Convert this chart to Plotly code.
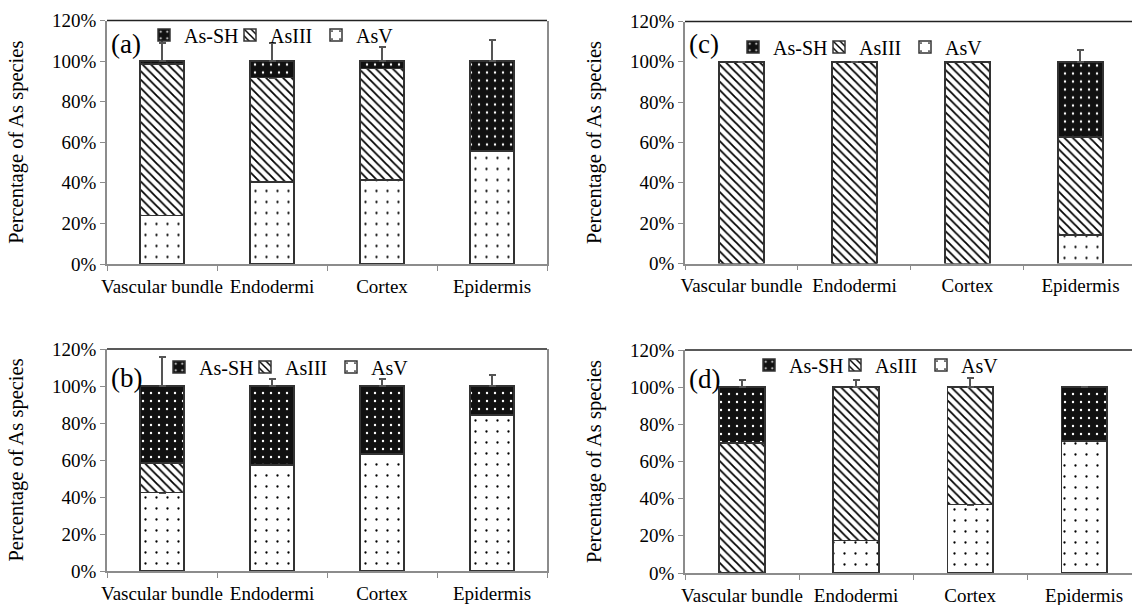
import plotly.graph_objects as go

# ---------------- data ----------------
categories = ["Vascular bundle", "Endodermi", "Cortex", "Epidermis"]
species = ["AsV", "AsIII", "As-SH"]

# panel (a)
a_asv = [24.0, 40.5, 41.4, 55.8]
a_asiii = [74.5, 51.3, 55.0, 0.0]
a_assh = [1.5, 8.2, 3.6, 44.2]
a_asv_err = [8.0, None, 5.2, None]
a_asiii_err = [10.5, None, None, None]
a_assh_err = [13.5, 8.7, 7.0, 10.3]

# panel (b)
b_asv = [42.4, 57.2, 63.2, 84.3]
b_asiii = [16.1, 0.0, 0.0, 0.0]
b_assh = [41.5, 42.8, 36.8, 15.7]
b_asv_err = [8.0, None, None, None]
b_asiii_err = [None, None, None, None]
b_assh_err = [15.5, 4.0, 3.8, 6.0]

# panel (c)
c_asv = [0.0, 0.0, 0.0, 14.1]
c_asiii = [100.0, 100.0, 100.0, 48.7]
c_assh = [0.0, 0.0, 0.0, 37.2]
c_asv_err = [None, None, None, 5.0]
c_asiii_err = [None, None, None, None]
c_assh_err = [None, None, None, 6.0]

# panel (d)
d_asv = [0.0, 17.6, 36.8, 71.0]
d_asiii = [69.9, 82.4, 63.2, 0.0]
d_assh = [30.1, 0.0, 0.0, 29.0]
d_asv_err = [None, 12.2, 4.4, None]
d_asiii_err = [None, 4.0, 4.7, None]
d_assh_err = [4.0, None, None, None]

y_ticks = [0, 20, 40, 60, 80, 100, 120]
y_tick_labels = ["0%", "20%", "40%", "60%", "80%", "100%", "120%"]
panel_labels = ["(a)", "(b)", "(c)", "(d)"]

# ---------------- styling ----------------
FONT = "Liberation Serif"
W, H = 1132, 605

patterns = {
    "AsV": dict(shape=".", bgcolor="white", fgcolor="black", size=11, solidity=0.035, fillmode="replace"),
    "AsIII": dict(shape="\\", bgcolor="white", fgcolor="black", size=6, solidity=0.3, fillmode="replace"),
    "As-SH": dict(shape=".", bgcolor="#111111", fgcolor="white", size=8, solidity=0.07, fillmode="replace"),
}

panels = [
    ("(a)", (a_asv, a_asiii, a_assh), (a_asv_err, a_asiii_err, a_assh_err), "", "legend",
     (107, 547), (20.5, 264), 3.5, (165, 35)),
    ("(b)", (b_asv, b_asiii, b_assh), (b_asv_err, b_asiii_err, b_assh_err), "2", "legend2",
     (107, 547), (349, 571), 3.5, (180, 367)),
    ("(c)", (c_asv, c_asiii, c_assh), (c_asv_err, c_asiii_err, c_assh_err), "3", "legend3",
     (685, 1132), (21.5, 263.5), 3.456, (754, 47)),
    ("(d)", (d_asv, d_asiii, d_assh), (d_asv_err, d_asiii_err, d_assh_err), "4", "legend4",
     (685, 1132), (350, 573), 3.42, (770, 365)),
]

fig = go.Figure()
layout = dict(
    width=W, height=H,
    margin=dict(l=0, r=0, t=0, b=0, autoexpand=False),
    paper_bgcolor="white", plot_bgcolor="white",
    barmode="stack",
    font=dict(family=FONT, size=19, color="black"),
    showlegend=True,
)
shapes = []
annotations = []

for label, vals, errs, sfx, legname, xd, yd, xend, legpos in panels:
    xa = "x" + sfx
    ya = "y" + sfx
    for name, v, e in zip(species, vals, errs):
        fig.add_trace(go.Bar(
            x=categories, y=v, name=name,
            xaxis=xa, yaxis=ya,
            width=0.4,
            marker=dict(pattern=patterns[name], line=dict(color="#333333", width=1.5)),
            error_y=dict(type="data", symmetric=False, array=e,
                         arrayminus=[None] * len(e),
                         color="#555555", thickness=2, width=3.5),
            legend=legname,
            showlegend=True,
        ))
    xkey = "xaxis" + sfx
    ykey = "yaxis" + sfx
    layout[xkey] = dict(
        domain=[xd[0] / W, xd[1] / W],
        anchor=ya,
        type="category",
        range=[-0.5, xend],
        showline=True, linecolor="#8c8c8c", linewidth=1.5,
        ticks="outside", tickson="boundaries", ticklen=5, tickcolor="#8c8c8c",
        showgrid=False, zeroline=False,
        tickangle=0,
        automargin=False,
        tickfont=dict(family=FONT, size=19, color="black"),
        ticklabelstandoff=4,
        fixedrange=True,
    )
    layout[ykey] = dict(
        domain=[1 - yd[1] / H, 1 - yd[0] / H],
        anchor=xa,
        range=[0, 120],
        tickmode="array",
        tickvals=y_ticks,
        ticktext=y_tick_labels,
        showline=True, linecolor="#8c8c8c", linewidth=1.5, mirror=True,
        ticks="outside", ticklen=5, tickcolor="#8c8c8c",
        showgrid=False, zeroline=False,
        automargin=False,
        tickfont=dict(family=FONT, size=19, color="black"),
        title=dict(text="Percentage of As species", font=dict(family=FONT, size=20.5, color="black"),
                   standoff=23),
        fixedrange=True,
    )
    layout[legname] = dict(
        orientation="h",
        xref="container", yref="container",
        x=(legpos[0] - 21) / W, xanchor="left",
        y=1 - legpos[1] / H, yanchor="middle",
        bgcolor="rgba(0,0,0,0)",
        traceorder="reversed",
        font=dict(family=FONT, size=20, color="black"),
        entrywidthmode="pixels", entrywidth=41,
        itemclick=False, itemdoubleclick=False,
    )
    shapes.append(dict(type="line", xref=xa + " domain", yref=ya + " domain",
                       x0=0, x1=1, y0=1, y1=1, line=dict(color="#222222", width=1.5)))
    annotations.append(dict(text=label, xref=xa + " domain", yref=ya + " domain",
                            x=0.005, y=0.905 if sfx in ("", "3") else 0.87,
                            xanchor="left", yanchor="middle", showarrow=False,
                            font=dict(family=FONT, size=27, color="black")))

layout["shapes"] = shapes
layout["annotations"] = annotations
fig.update_layout(**layout)
fig.write_html("out.html")
